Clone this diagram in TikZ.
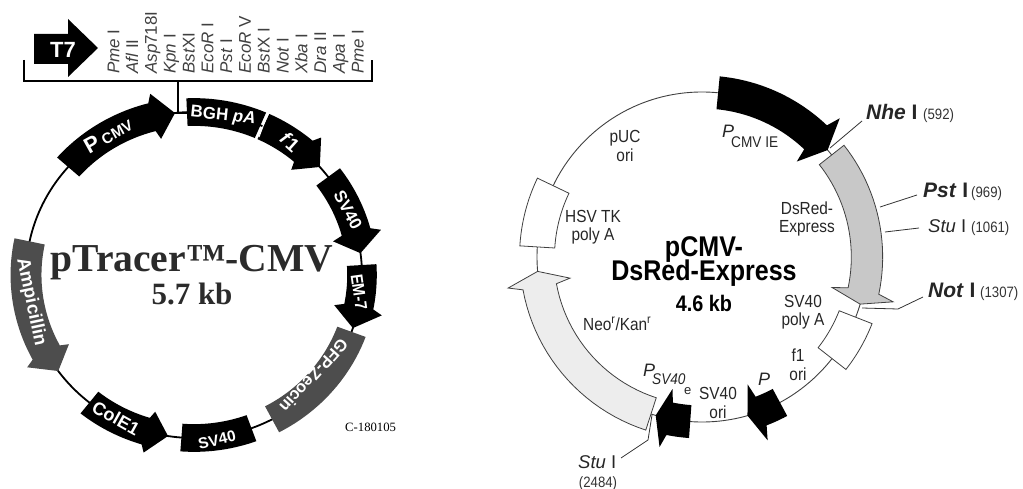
\documentclass[tikz,border=0pt]{standalone}
\usepackage{fontspec}
\setmainfont{Liberation Sans}
\newfontfamily\timesfont{Liberation Serif}
\newfontfamily\narrowfont[FakeStretch=0.88]{Liberation Sans}
\definecolor{genegrey}{HTML}{4D4D4D}
\definecolor{dsredfill}{HTML}{C8C8C8}
\definecolor{neofill}{HTML}{EDEDED}
\definecolor{titlecolor}{HTML}{2B2B2B}
\definecolor{sitecolor}{HTML}{404040}

% unit circle arrow: start, neck, tip, half width, half head width
\newcommand{\genearrow}[6][]{%
  \pgfmathsetmacro\neckang{#3+1.3*sign(#4-#3)}
  \path[#1] plot[domain=#2:#3,samples=24] ({\x}:{1+#5}) -- (\neckang:{1+#6}) -- (#4:1)
    -- (\neckang:{1-#6}) -- plot[domain=#3:#2,samples=24] ({\x}:{1-#5}) -- cycle;
}
% unit circle box: start, end, half width
\newcommand{\genebox}[4][]{%
  \path[#1] plot[domain=#2:#3,samples=24] ({\x}:{1+#4})
    -- plot[domain=#3:#2,samples=24] ({\x}:{1-#4}) -- cycle;
}

\begin{document}
\begin{tikzpicture}[
  x=1pt, y=-1pt,
  solidgene/.style={fill=black},
  greygene/.style={fill=genegrey},
  outgene/.style={fill=#1, draw=black!75, line width=0.8pt},
  inlabel/.style={text=white, font=\fontsize{17}{19}\selectfont\bfseries, inner sep=0pt},
  maplabel/.style={font=\narrowfont\fontsize{17.5}{18.5}\selectfont, align=center, inner sep=0pt, text=black!85},
  sitelabel/.style={font=\fontsize{17}{18}\selectfont, rotate=90, anchor=base west, inner sep=0pt, text=sitecolor},
  cutlabel/.style={font=\fontsize{18.5}{22}\selectfont, anchor=base west, inner sep=0pt, text=black!85},
  boldcut/.style={cutlabel, font=\fontsize{21}{22}\selectfont\bfseries},
  cutnum/.style={font=\narrowfont\fontsize{15}{16}\selectfont, anchor=base west, inner sep=0pt, text=black!80},
  titlelabel/.style={anchor=base, inner sep=0pt, text=black, font=\narrowfont\fontsize{28.5}{30}\selectfont\bfseries},
  leader/.style={draw=black!80, line width=0.8pt}
]
\useasboundingbox (0,0) rectangle (1023,489);

% T7 arrow and polylinker
\path[fill=black] (34,34) -- (68,34) -- (68,19) -- (98,48) -- (68,77) -- (68,64) -- (34,64) -- cycle;
\node[inlabel, font=\fontsize{22}{24}\selectfont\bfseries] (t7) at (63,50) {T7};
\draw[line width=1.6pt] (24,60) -- (24,81) -- (372,81) -- (372,60);
\coordinate (mcsbase) at (178,81);
\coordinate (mcsend) at (178,113);
\coordinate (bghstart) at (188,113);
\draw[line width=1.6pt] (mcsbase) -- (mcsend) -- (bghstart);
\foreach \siteit/\sitert [count=\i from 0] in {Pme/ I, Afl/ II, Asp/718I, Kpn/ I, Bst/XI, EcoR/ I, Pst/ I, EcoR/ V, Bst/X I, Not/ I, Xba/ I, Dra/ II, Apa/ I, Pme/ I}
  \node[sitelabel] (site\i) at ({119.3+18.8*\i},74) {\textit{\siteit}\sitert};

% left plasmid
\begin{scope}[shift={(194,275)}, x=168pt, y=-163pt]
  \draw[line width=1.8pt] (0,0) circle[x radius=1, y radius=1];
  \genearrow[solidgene]{221.5}{255.5}{263.5}{0.088}{0.142}
  \genebox[solidgene]{267.6}{293.3}{0.085}
  \genearrow[solidgene]{294.4}{310.6}{318.5}{0.085}{0.133}
  \genearrow[solidgene]{323}{344.7}{352.3}{0.088}{0.147}
  \genearrow[solidgene]{356.5}{371.2}{379}{0.088}{0.145}
  \genebox[greygene]{20.4}{62.3}{0.09}
  \genebox[solidgene]{70}{94.3}{0.085}
  \genearrow[solidgene]{128.5}{106.7}{98.9}{0.085}{0.13}
  \genearrow[greygene]{191.9}{151.6}{143.9}{0.092}{0.143}
\end{scope}
\draw[white, line width=1pt] (268,113) -- (259,137);
\node[inlabel, rotate=29] (pcmv) at (108,135) {\fontsize{22}{24}\selectfont P\,\fontsize{15}{17}\selectfont CMV};
\node[inlabel, rotate=-6] (bgh) at (223,116) {BGH \textit{pA}};
\node[inlabel, rotate=-42, font=\fontsize{19}{21}\selectfont\bfseries] (fone) at (290,142) {\textit{f}1};
\node[inlabel, rotate=-62] (svtop) at (348,210) {SV40};
\node[inlabel, rotate=-82, font=\narrowfont\fontsize{17}{19}\selectfont\bfseries] (emseven) at (359,292) {EM-7};
\node[inlabel, rotate=-132, font=\fontsize{16.5}{18}\selectfont\bfseries] (gfp) at (314,376) {GFP-Zeocin};
\node[inlabel, rotate=-29, font=\fontsize{18}{20}\selectfont\bfseries] (cole) at (116,418) {ColE1};
\node[inlabel, rotate=13, font=\fontsize{15.5}{17}\selectfont\bfseries] (svbot) at (217,440) {SV40};
\node[inlabel, rotate=-78, font=\fontsize{18.5}{20}\selectfont\bfseries] (amp) at (31,302) {Ampicillin};
\node[anchor=base, inner sep=0pt, text=titlecolor, font=\timesfont\fontsize{39.6}{42}\selectfont\bfseries] (ptitle) at (192,272) {pTracer™-CMV};
\node[anchor=base, inner sep=0pt, text=titlecolor, font=\timesfont\fontsize{31}{33}\selectfont\bfseries] (psize) at (192,305) {5.7 kb};
\node[anchor=base west, inner sep=0pt, font=\timesfont\fontsize{12.7}{14}\selectfont] (pcode) at (345,431) {C-180105};

% right plasmid
\coordinate (nhesite) at (830,148);
\coordinate (nheend) at (862,121);
\coordinate (pstsite) at (880,207);
\coordinate (pstend) at (917,195);
\coordinate (stusite) at (885,232);
\coordinate (stuend) at (919,228);
\coordinate (notsite) at (862,308);
\coordinate (notbend) at (898,309);
\coordinate (notend) at (923,297);
\coordinate (stbsite) at (652,415);
\coordinate (stbbend) at (648,440);
\coordinate (stbend) at (621,458);
\draw[leader] (nhesite) -- (nheend);
\draw[leader] (pstsite) -- (pstend);
\draw[leader] (stusite) -- (stuend);
\draw[leader] (notsite) -- (notbend) -- (notend);
\draw[leader] (stbsite) -- (stbbend) -- (stbend);
\begin{scope}[shift={(702,257)}, x=165pt, y=-165pt]
  \draw[line width=0.9pt, draw=black!75] (0,0) circle[x radius=1, y radius=1];
  \genearrow[solidgene]{275.6}{313.5}{319.6}{0.1}{0.185}
  \genearrow[outgene=dsredfill]{321.8}{371.9}{376.6}{0.095}{0.19}
  \genebox[outgene=white]{21.4}{38}{0.107}
  \genearrow[solidgene]{61.8}{69}{74}{0.093}{0.18}
  \genearrow[solidgene]{94.1}{101.3}{106.3}{0.1}{0.18}
  \genearrow[outgene=neofill]{108}{169.6}{175}{0.103}{0.19}
  \genebox[outgene=white]{205.6}{183.5}{0.106}
\end{scope}

% right plasmid labels
\node[maplabel] (puc) at (625,146) {pUC\\ori};
\node[maplabel, anchor=base west, font=\fontsize{18}{20}\selectfont] (pcmvie) at (722,138) {\textit{P}};
\node[maplabel, anchor=base west, font=\narrowfont\fontsize{15.5}{17}\selectfont] (cmvie) at (731,148) {CMV\ IE};
\node[maplabel] (dsred) at (807,219) {DsRed-\\Express};
\node[maplabel] (hsv) at (593,227) {HSV TK\\poly A};
\node[titlelabel] (rtitle) at (704,257) {pCMV-};
\node[titlelabel] (rname) at (704,280) {DsRed-Express};
\node[titlelabel, font=\narrowfont\fontsize{22.5}{24}\selectfont\bfseries] (rsize) at (704,311) {4.6 kb};
\node[maplabel] (polya) at (803,312) {SV40\\poly A};
\node[maplabel] (fori) at (798,365) {f1\\ori};
\node[maplabel, anchor=base west, font=\fontsize{18}{20}\selectfont] (psmall) at (758,385) {\textit{P}};
\node[maplabel] (svori) at (718,403) {SV40\\ori};
\node[maplabel, anchor=base west, font=\fontsize{18}{20}\selectfont] (psv) at (643,376) {\textit{P}};
\node[maplabel, anchor=base west, font=\narrowfont\fontsize{15.5}{17}\selectfont] (psvsub) at (652,384) {\textit{SV40}};
\node[maplabel, anchor=base west, font=\fontsize{13}{15}\selectfont] (psve) at (684,394) {e};
\node[maplabel, anchor=base west] (neo) at (583,330) {Neo\textsuperscript{r}/Kan\textsuperscript{r}};

% cut sites
\node[boldcut] (nhe) at (866,120) {\textit{Nhe} I};
\node[cutnum] (nhenum) at (923,120) {(592)};
\node[boldcut] (pst) at (923,198) {\textit{Pst} I};
\node[cutnum] (pstnum) at (971,198) {(969)};
\node[cutlabel] (stu) at (928,233) {\textit{Stu} I};
\node[cutnum] (stunum) at (971,233) {(1061)};
\node[boldcut] (not) at (928,298) {\textit{Not} I};
\node[cutnum] (notnum) at (980,298) {(1307)};
\node[cutlabel] (stb) at (578,468) {\textit{Stu} I};
\node[cutnum, anchor=base] (stbnum) at (598,487) {(2484)};
\end{tikzpicture}
\end{document}
